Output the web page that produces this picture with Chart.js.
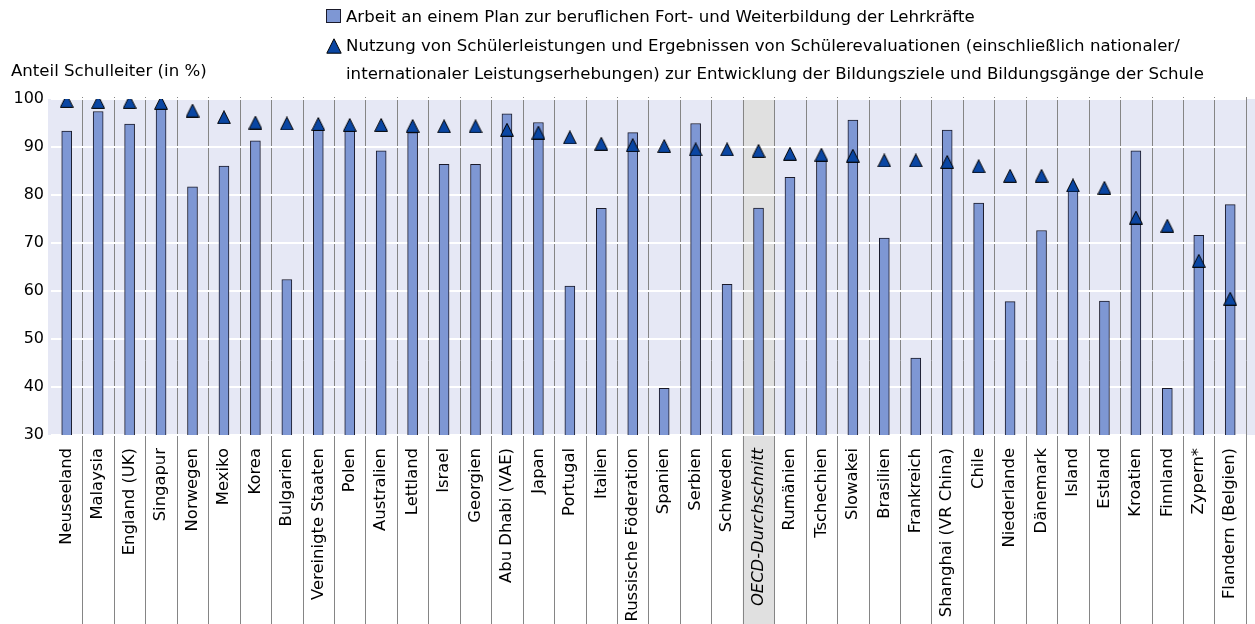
<!DOCTYPE html>
<html lang="de">
<head>
<meta charset="utf-8">
<title>Anteil Schulleiter (in %)</title>
<script src="https://cdn.jsdelivr.net/npm/chart.js@4.4.1/dist/chart.umd.min.js"></script>
<style>
  html, body { margin: 0; padding: 0; background: #fff; }
  #wrap { position: relative; width: 1255px; height: 624px; font-family: "DejaVu Sans", sans-serif; color: #000; }
  #chart { position: absolute; left: 0; top: 0; }
  .txt { position: absolute; font-size: 16.6px; line-height: 28px; white-space: nowrap; }
  .sym { position: absolute; }
</style>
</head>
<body>
<div id="wrap">
  <canvas id="chart" width="1255" height="624"></canvas>

  <!-- legend + axis title -->
  <svg class="sym" style="left:326px; top:9px" width="15" height="14">
    <rect x="0.5" y="0.5" width="14" height="13" fill="#7e97d4" stroke="#1a1a2a" stroke-width="1"/>
  </svg>
  <div class="txt" id="lab1" style="left:346px; top:3px"></div>
  <svg class="sym" style="left:326px; top:38px" width="16" height="16">
    <polygon points="8,0.8 15.2,15.2 0.8,15.2" fill="#0a46a3" stroke="#000" stroke-width="1"/>
  </svg>
  <div class="txt" id="lab2" style="left:346px; top:32px"></div>
  <div class="txt" id="ytitle" style="left:11px; top:57px"></div>
</div>

<script>
// categories (countries / economies)
const categories = [
  "Neuseeland", "Malaysia", "England (UK)", "Singapur", "Norwegen", "Mexiko", "Korea",
  "Bulgarien", "Vereinigte Staaten", "Polen", "Australien", "Lettland", "Israel", "Georgien",
  "Abu Dhabi (VAE)", "Japan", "Portugal", "Italien", "Russische Föderation", "Spanien",
  "Serbien", "Schweden", "OECD-Durchschnitt", "Rumänien", "Tschechien", "Slowakei",
  "Brasilien", "Frankreich", "Shanghai (VR China)", "Chile", "Niederlande", "Dänemark",
  "Island", "Estland", "Kroatien", "Finnland", "Zypern*", "Flandern (Belgien)"
];

// bars: Arbeit an einem Plan zur beruflichen Fort- und Weiterbildung der Lehrkräfte
const planValues = [
  93.3, 97.4, 94.8, 98.1, 81.7, 86.0, 91.3, 62.4, 93.5, 93.5, 89.2, 93.0, 86.4, 86.4,
  96.9, 95.1, 61.0, 77.2, 93.0, 39.7, 94.9, 61.4, 77.3, 83.7, 87.4, 95.6, 71.0, 46.0,
  93.5, 78.3, 57.8, 72.6, 80.8, 57.9, 89.2, 39.7, 71.6, 78.0
];

// triangles: Nutzung von Schülerleistungen ...
const nutzungValues = [
  99.6, 99.4, 99.4, 99.2, 97.6, 96.2, 95.1, 94.9, 94.8, 94.6, 94.6, 94.4, 94.3, 94.3,
  93.6, 93.0, 92.0, 90.7, 90.4, 90.2, 89.5, 89.5, 89.2, 88.6, 88.4, 88.2, 87.2, 87.2,
  86.9, 86.0, 84.0, 84.0, 82.0, 81.5, 75.3, 73.6, 66.3, 58.4
];

const yTicks = [30, 40, 50, 60, 70, 80, 90, 100];

const seriesNames = [
  "Arbeit an einem Plan zur beruflichen Fort- und Weiterbildung der Lehrkräfte",
  "Nutzung von Schülerleistungen und Ergebnissen von Schülerevaluationen (einschließlich nationaler/",
  "internationaler Leistungserhebungen) zur Entwicklung der Bildungsziele und Bildungsgänge der Schule"
];
const yTitle = "Anteil Schulleiter (in %)";
const highlight = "OECD-Durchschnitt";

document.getElementById("lab1").textContent = seriesNames[0];
document.getElementById("lab2").append(seriesNames[1], document.createElement("br"), seriesNames[2]);
document.getElementById("ytitle").textContent = yTitle;

const FONT = "'DejaVu Sans', sans-serif";

// triangle marker, drawn once and used as point style
function triangleMarker() {
  const c = document.createElement("canvas");
  c.width = 14;
  c.height = 14;
  const g = c.getContext("2d");
  g.beginPath();
  g.moveTo(7, 0.6);
  g.lineTo(13.4, 13.4);
  g.lineTo(0.6, 13.4);
  g.closePath();
  g.fillStyle = "#0a46a3";
  g.fill();
  g.strokeStyle = "#000";
  g.lineWidth = 1;
  g.stroke();
  return c;
}

// plot background, OECD band and the category separators
const backdrop = {
  id: "backdrop",
  beforeDraw(chart) {
    const { ctx, chartArea: a, scales: { x } } = chart;
    const half = (x.getPixelForValue(1) - x.getPixelForValue(0)) / 2;
    ctx.save();
    ctx.fillStyle = "#e6e8f5";
    ctx.fillRect(a.left - 3, a.top, chart.width - a.left + 3, a.bottom - a.top);

    const hi = categories.indexOf(highlight);
    const cx = x.getPixelForValue(hi);
    ctx.fillStyle = "#e0e0e0";
    ctx.fillRect(cx - half, a.top, half * 2, chart.height - a.top);

    ctx.strokeStyle = "#858585";
    ctx.lineWidth = 1;
    for (let i = 1; i <= categories.length; i++) {
      const px = Math.round(x.getPixelForValue(i) - half) + 0.5;
      ctx.beginPath();
      ctx.moveTo(px, a.top - 2);
      ctx.lineTo(px, chart.height);
      ctx.stroke();
    }
    ctx.restore();
  },
};

new Chart(document.getElementById("chart"), {
  type: "bar",
  data: {
    labels: categories,
    datasets: [
      {
        type: "line",
        label: seriesNames[1],
        data: nutzungValues,
        showLine: false,
        pointStyle: triangleMarker(),
        pointRadius: 7,
        order: 0,
      },
      {
        label: seriesNames[0],
        data: planValues,
        backgroundColor: "#7e97d4",
        borderColor: "#1a1a2a",
        borderWidth: 1,
        barThickness: 10,
        order: 1,
      },
    ],
  },
  options: {
    responsive: false,
    animation: false,
    layout: { padding: { top: 99, right: 6, left: 0, bottom: 0 } },
    plugins: {
      legend: { display: false },
      tooltip: { enabled: false },
    },
    scales: {
      x: {
        grid: { display: false },
        border: { display: false },
        ticks: {
          autoSkip: false,
          maxRotation: 90,
          minRotation: 90,
          padding: 5,
          color: "#000",
          font: (c) => ({
            family: FONT,
            size: 16.4,
            style: categories[c.index] === highlight ? "italic" : "normal",
          }),
        },
        afterFit: (s) => { s.height = 189; },
      },
      y: {
        min: yTicks[0],
        max: yTicks[yTicks.length - 1],
        afterBuildTicks: (s) => { s.ticks = yTicks.map((v) => ({ value: v })); },
        grid: { color: "#ffffff", lineWidth: 2, drawTicks: false },
        border: { display: false },
        ticks: { padding: 7, color: "#000", font: { family: FONT, size: 16 } },
        afterFit: (s) => { s.width = 51; },
      },
    },
  },
  plugins: [backdrop],
});
</script>
</body>
</html>
